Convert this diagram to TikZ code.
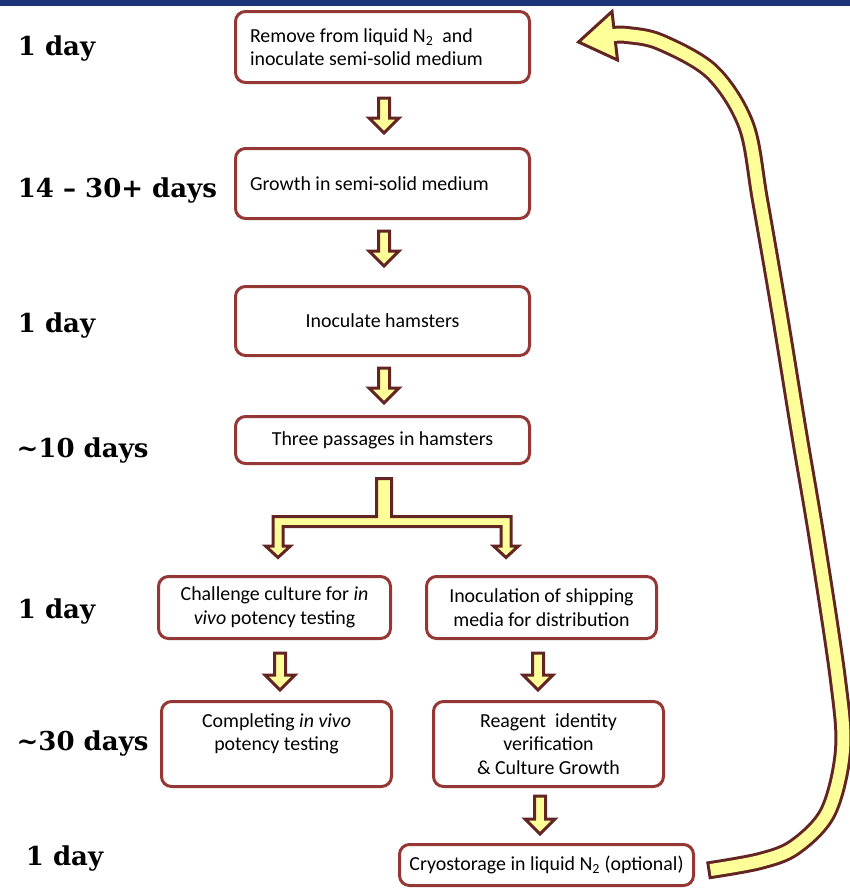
\documentclass[tikz,border=0pt]{standalone}
\usepackage{fontspec}
\setmainfont{Carlito}
\newfontfamily\daysfont{DejaVu Serif}
\usetikzlibrary{calc}
\definecolor{boxred}{RGB}{149,55,53}
\definecolor{arrdark}{RGB}{99,37,35}
\definecolor{arrfill}{RGB}{255,255,153}
\definecolor{topblue}{RGB}{27,51,120}
\newcommand\boxtext{\fontsize{19.9}{23.5}\selectfont}
\newcommand\daytext{\daysfont\bfseries\fontsize{26}{30}\selectfont}
\newcommand\lefttext[1]{\parbox[c]{265pt}{\raggedright #1}}
% block arrow pointing down: #1 top centre, #2 point whose y is the tip
\newcommand\blockdown[2]{%
  \draw[blockarr] ($(#1)+(-5.5,0)$) -- ($(#1)+(5.5,0)$) -- ($(#1 |- #2)+(5.5,-15)$)
    -- ($(#1 |- #2)+(15,-15)$) -- (#1 |- #2) -- ($(#1 |- #2)+(-15,-15)$)
    -- ($(#1 |- #2)+(-5.5,-15)$) -- cycle;}
\begin{document}
\begin{tikzpicture}[x=1pt,y=-1pt,
  stepbox/.style={draw=boxred, line width=3pt, rounded corners=10pt, fill=white,
    font=\boxtext, inner sep=0pt},
  leftbox/.style={stepbox, inner xsep=14.5pt, minimum width=294pt},
  centbox/.style={stepbox, align=center},
  blockarr/.style={draw=arrdark, fill=arrfill, line width=3pt, line join=miter},
  daylabel/.style={anchor=base west, inner sep=0pt, font=\daytext}]
\useasboundingbox (0,0) rectangle (850,889);
\fill[topblue] (0,0) rectangle (850,5.5);

% boxes
\node[leftbox, minimum height=71pt] (b1) at (382.5,47)
  {\lefttext{Remove from liquid N\textsubscript{2} \ and\\inoculate semi-solid medium}};
\node[leftbox, minimum height=70pt] (b2) at (382.5,183.5)
  {\lefttext{Growth in semi-solid medium}};
\node[centbox, minimum width=294pt, minimum height=69pt] (b3) at (382.5,321)
  {Inoculate hamsters};
\node[centbox, minimum width=294pt, minimum height=47pt] (b4) at (382.5,440)
  {Three passages in hamsters};
\node[centbox, minimum width=232pt, minimum height=62pt] (b5) at (274.5,607.5)
  {Challenge culture for \textit{in}\\\textit{vivo} potency testing};
\node[centbox, minimum width=230pt, minimum height=62pt] (b6) at (541.5,607.5)
  {Inoculation of shipping\\media for distribution};
\node[centbox, minimum width=230pt, minimum height=85pt] (b7) at (276.5,744)
  {Completing \textit{in vivo}\\potency testing\\\mbox{}};
\node[centbox, minimum width=230pt, minimum height=85pt] (b8) at (548.5,744)
  {Reagent \ identity\\verification\\\& Culture Growth};
\node[centbox, minimum width=294pt, minimum height=41pt] (b9) at (546.5,865)
  {Cryostorage in liquid N\textsubscript{2} (optional)};

% time labels
\node[daylabel] (d1) at (17.7,55) {1 day};
\node[daylabel] (d2) at (17.7,197) {14 – 30+ days};
\node[daylabel] (d3) at (17.7,332) {1 day};
\node[daylabel] (d4) at (16.5,457) {\textasciitilde10 days};
\node[daylabel] (d5) at (17.7,618) {1 day};
\node[daylabel] (d6) at (16.5,750) {\textasciitilde30 days};
\node[daylabel] (d7) at (25.7,865) {1 day};

% straight block arrows
\coordinate (a12) at ($(b1.south)+(1.5,14)$);
\coordinate (a12t) at ($(b2.north)+(1.5,-14)$);
\coordinate (a23) at ($(b2.south)+(1.5,11)$);
\coordinate (a23t) at ($(b3.north)+(1.5,-19)$);
\coordinate (a34) at ($(b3.south)+(1.5,11)$);
\coordinate (a34t) at ($(b4.north)+(1.5,-12)$);
\coordinate (a57) at ($(b5.south)+(5.5,13)$);
\coordinate (a57t) at ($(b7.north)+(3.5,-10)$);
\coordinate (a68) at ($(b6.south)+(-3.5,13)$);
\coordinate (a68t) at ($(b8.north)+(-10.5,-10)$);
\coordinate (a89) at ($(b8.south)+(-8.5,8)$);
\coordinate (a89t) at ($(b9.north)+(-6.5,-9)$);
\blockdown{a12}{a12t}
\blockdown{a23}{a23t}
\blockdown{a34}{a34t}
\blockdown{a57}{a57t}
\blockdown{a68}{a68t}
\blockdown{a89}{a89t}

% split arrow
\coordinate (st) at ($(b4.south)+(1.5,13.5)$);
\coordinate (lt) at ($(b5.north)+(3.5,-17.5)$);
\coordinate (rt) at ($(b6.north)+(-35.5,-17.5)$);
\draw[blockarr] ($(st)+(-7.5,0)$) -- ($(st)+(7.5,0)$) -- ($(st)+(7.5,38)$)
  -- ($(rt |- st)+(5,38)$) -- ($(rt)+(5,-11.5)$) -- ($(rt)+(12.5,-11.5)$) -- (rt)
  -- ($(rt)+(-12.5,-11.5)$) -- ($(rt)+(-5,-11.5)$) -- ($(rt |- st)+(-5,48)$)
  -- ($(lt |- st)+(5,48)$) -- ($(lt)+(5,-11.5)$) -- ($(lt)+(12.5,-11.5)$) -- (lt)
  -- ($(lt)+(-12.5,-11.5)$) -- ($(lt)+(-5,-11.5)$) -- ($(lt |- st)+(-5,38)$)
  -- ($(st)+(-7.5,38)$) -- cycle;

% big return arrow
\coordinate (cstart) at ($(b9.east)+(15.5,5)$);
\coordinate (cdark) at ($(cstart)+(-3,0.5)$);
\coordinate (ctip) at ($(b1.east)+(47.5,-5)$);
\draw[arrdark, line width=18pt] plot[smooth, tension=0.55] coordinates {(cdark) (760,861) (795,847) (828,812) (843,750) (838,680) (817,540) (799,433) (780,316) (760,200) (746,125) (712,72) (660,42) (627,35) (614,35)};
\draw[blockarr] (ctip) -- ($(ctip)+(33.5,-30.5)$) -- ($(ctip)+(39,18)$) -- cycle;
\draw[arrfill, line width=12pt] plot[smooth, tension=0.55] coordinates {(cstart) (760,861) (795,847) (828,812) (843,750) (838,680) (817,540) (799,433) (780,316) (760,200) (746,125) (712,72) (660,42) (627,35) (614,35) (603,36.5)};
\end{tikzpicture}
\end{document}
